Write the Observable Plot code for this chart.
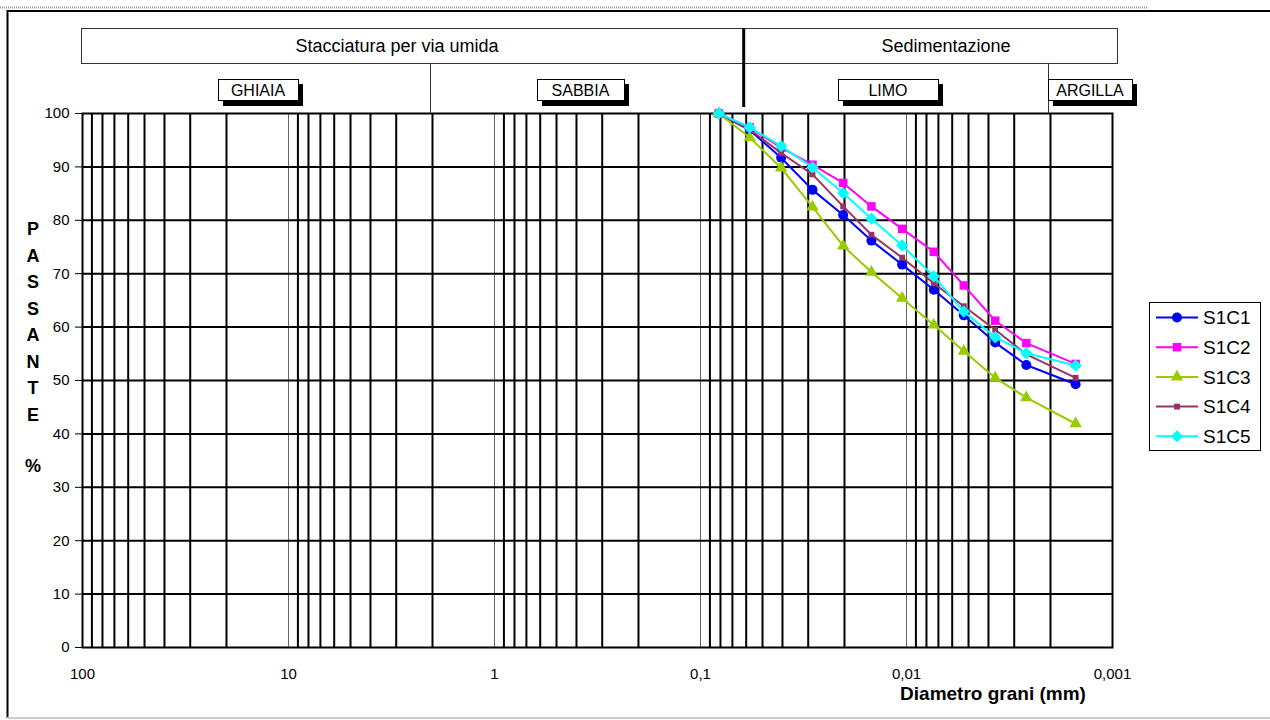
<!DOCTYPE html>
<html>
<head>
<meta charset="utf-8">
<script src="https://cdn.jsdelivr.net/npm/d3@7"></script>
<script src="https://cdn.jsdelivr.net/npm/@observablehq/plot@0.6"></script>
<style>
  html, body { margin: 0; padding: 0; background: #fff; }
  #chart { width: 1270px; height: 720px; }
</style>
</head>
<body>
<div id="chart"></div>
<script>
// ---- data ----
const diameters = [0.0815, 0.0577, 0.0406, 0.0286, 0.0203, 0.0148, 0.0105, 0.00737, 0.00527, 0.00371, 0.00262, 0.00151];
const S1C1 = [100, 96.9, 91.7, 85.7, 81.0, 76.2, 71.7, 67.0, 62.2, 57.1, 52.9, 49.3];
const S1C2 = [100, 97.4, 93.6, 90.4, 87.0, 82.6, 78.4, 74.1, 67.8, 61.2, 57.0, 53.1];
const S1C3 = [100, 95.5, 89.8, 82.5, 75.2, 70.3, 65.4, 60.4, 55.5, 50.5, 46.8, 41.9];
const S1C4 = [100, 97.0, 92.6, 88.6, 82.6, 77.3, 73.0, 68.2, 63.9, 59.5, 54.9, 50.5];
const S1C5 = [100, 97.4, 93.9, 89.9, 85.1, 80.3, 75.3, 69.5, 62.9, 58.1, 55.1, 52.8];
const seriesNames = ["S1C1", "S1C2", "S1C3", "S1C4", "S1C5"];
const seriesValues = [S1C1, S1C2, S1C3, S1C4, S1C5];
const seriesColors = ["#0000FF", "#FF00FF", "#99CC00", "#993366", "#00FFFF"];
const seriesSymbols = ["circle", "square", "triangle", "square", "square"];
const seriesR = [5, 4.8, 4.6, 3.3, 4.9];
const seriesRotate = [0, 0, 0, 0, 45];

const xTickValues = [100, 10, 1, 0.1, 0.01, 0.001];
const xTickLabels = ["100", "10", "1", "0,1", "0,01", "0,001"];
const yTickValues = [0, 10, 20, 30, 40, 50, 60, 70, 80, 90, 100];
const yLabelLetters = ["P", "A", "S", "S", "A", "N", "T", "E"];

const zoneBounds = [2, 0.06, 0.002];       // ghiaia/sabbia, sabbia/limo, limo/argilla (mm)
const methodLabels = ["Stacciatura per via umida", "Sedimentazione"];
const zoneLabels = ["GHIAIA", "SABBIA", "LIMO", "ARGILLA"];

// grid lines: 2..9 x 10^k (black) and decades (thin)
const minorGrid = [];
for (const dec of [10, 1, 0.1, 0.01, 0.001]) for (let m = 2; m <= 9; m++) minorGrid.push(+(m * dec).toPrecision(3));
const decadeGrid = [10, 1, 0.1, 0.01];

const rows = seriesNames.map((name, i) => diameters.map((d, j) => ({d, v: seriesValues[i][j], name})));

const font = "'Liberation Sans', Arial, Helvetica, sans-serif";

const seriesMarks = [];
rows.forEach((data, i) => {
  seriesMarks.push(Plot.line(data, {x: "d", y: "v", stroke: seriesColors[i], strokeWidth: 2}));
  seriesMarks.push(Plot.dot(data, {x: "d", y: "v", symbol: seriesSymbols[i], r: seriesR[i], fill: seriesColors[i], stroke: "none", rotate: seriesRotate[i]}));
});

const plot = Plot.plot({
  width: 1270,
  height: 720,
  marginLeft: 82,
  marginRight: 158,
  marginTop: 113,
  marginBottom: 73,
  style: {fontFamily: font, background: "white", color: "black"},
  x: {type: "log", domain: [100, 0.001], axis: null},
  y: {domain: [0, 100], axis: null},
  marks: [
    Plot.ruleX(minorGrid.filter(v => v > 0.001), {stroke: "black", strokeWidth: 2}),
    Plot.ruleX(decadeGrid, {stroke: "#666", strokeWidth: 1}),
    Plot.ruleY(yTickValues.slice(1, -1), {stroke: "black", strokeWidth: 2}),
    Plot.frame({stroke: "black", strokeWidth: 2}),
    Plot.axisX(xTickValues, {tickSize: 0, tickPadding: 21, fontSize: 15, label: null,
      tickFormat: d => xTickLabels[xTickValues.indexOf(d)]}),
    Plot.axisY(yTickValues, {tickSize: 7, tickPadding: 6, fontSize: 15, label: null, strokeWidth: 1}),
    ...seriesMarks
  ]
});
document.getElementById("chart").appendChild(plot);

// ---- decorations (header, titles, legend, page frame) ----
const xs = plot.scale("x");
const svg = d3.select(plot);
const g = svg.append("g").attr("font-family", font).attr("fill", "black").attr("text-anchor", "start");

// page frame
g.append("line").attr("x1", 0).attr("x2", 1148).attr("y1", 7.5).attr("y2", 7.5)
  .attr("stroke", "#999").attr("stroke-width", 2).attr("stroke-dasharray", "1,1");
g.append("line").attr("x1", 7).attr("x2", 1270).attr("y1", 11).attr("y2", 11).attr("stroke", "black").attr("stroke-width", 2);
g.append("line").attr("x1", 7.5).attr("x2", 7.5).attr("y1", 10).attr("y2", 718).attr("stroke", "black").attr("stroke-width", 2);
g.append("line").attr("x1", 7).attr("x2", 1270).attr("y1", 718).attr("y2", 718).attr("stroke", "#ccc").attr("stroke-width", 2);

// header box
const x100 = xs.apply(100), x0001 = xs.apply(0.001);
g.append("rect").attr("x", x100 - 0.5).attr("y", 28.5).attr("width", x0001 - x100 + 6).attr("height", 35)
  .attr("fill", "none").attr("stroke", "#333").attr("stroke-width", 1);
g.append("line").attr("x1", xs.apply(zoneBounds[1]) - 2).attr("x2", xs.apply(zoneBounds[1]) - 2)
  .attr("y1", 28).attr("y2", 107).attr("stroke", "black").attr("stroke-width", 3);
[zoneBounds[0], zoneBounds[2]].forEach(b => {
  g.append("line").attr("x1", xs.apply(b) - 1.5).attr("x2", xs.apply(b) - 1.5)
    .attr("y1", 63.5).attr("y2", 113).attr("stroke", "#333").attr("stroke-width", 1);
});
g.append("text").attr("x", 397).attr("y", 46).attr("dy", "0.35em").attr("text-anchor", "middle")
  .attr("font-size", 18).text(methodLabels[0]);
g.append("text").attr("x", 946).attr("y", 46).attr("dy", "0.35em").attr("text-anchor", "middle")
  .attr("font-size", 18).text(methodLabels[1]);

// zone tags with shadow
const tagBoxes = [[218, 80], [537, 87], [838, 100], [1048, 84]];
zoneLabels.forEach((lab, i) => {
  const [bx, bw] = tagBoxes[i];
  g.append("rect").attr("x", bx + 5).attr("y", 84).attr("width", bw).attr("height", 22).attr("fill", "black");
  g.append("rect").attr("x", bx + 0.5).attr("y", 79.5).attr("width", bw).attr("height", 21)
    .attr("fill", "white").attr("stroke", "black").attr("stroke-width", 1);
  g.append("text").attr("x", bx + bw / 2).attr("y", 90).attr("dy", "0.36em").attr("text-anchor", "middle")
    .attr("font-size", 16).text(lab);
});

// y-axis title, stacked letters
yLabelLetters.forEach((ch, i) => {
  g.append("text").attr("x", 33).attr("y", 229 + i * 26.5).attr("dy", "0.36em").attr("text-anchor", "middle")
    .attr("font-size", 18).attr("font-weight", "bold").text(ch);
});
g.append("text").attr("x", 33).attr("y", 466).attr("dy", "0.36em").attr("text-anchor", "middle")
  .attr("font-size", 18).attr("font-weight", "bold").text("%");

// x-axis title
g.append("text").attr("x", 993).attr("y", 693).attr("dy", "0.36em").attr("text-anchor", "middle")
  .attr("font-size", 19).attr("font-weight", "bold").text("Diametro grani (mm)");

// legend
const lg = g.append("g");
lg.append("rect").attr("x", 1149.5).attr("y", 302.5).attr("width", 111).attr("height", 148)
  .attr("fill", "white").attr("stroke", "black").attr("stroke-width", 1);
seriesNames.forEach((name, i) => {
  const yy = 317.5 + i * 29.7;
  lg.append("line").attr("x1", 1156).attr("x2", 1198).attr("y1", yy).attr("y2", yy)
    .attr("stroke", seriesColors[i]).attr("stroke-width", 2);
  const sym = {circle: d3.symbolCircle, square: d3.symbolSquare, triangle: d3.symbolTriangle}[seriesSymbols[i]];
  lg.append("path").attr("d", d3.symbol(sym, Math.PI * seriesR[i] * seriesR[i])())
    .attr("transform", `translate(1177,${yy}) rotate(${seriesRotate[i]})`).attr("fill", seriesColors[i]);
  lg.append("text").attr("x", 1203).attr("y", yy).attr("dy", "0.36em").attr("text-anchor", "start")
    .attr("font-size", 19).text(name);
});
</script>
</body>
</html>
